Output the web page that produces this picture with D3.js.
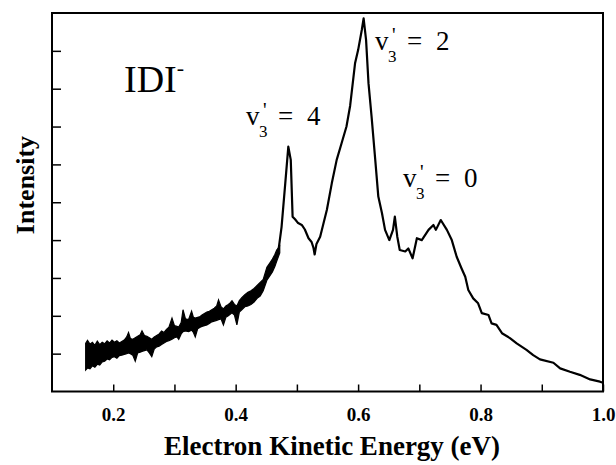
<!DOCTYPE html>
<html>
<head>
<meta charset="utf-8">
<script src="https://cdn.jsdelivr.net/npm/d3@7"></script>
<style>
  body { margin: 0; background: #fff; }
  svg { display: block; }
</style>
</head>
<body>
<div id="chart"></div>
<script>
// photoelectron spectrum of IDI-
// noisy low-energy part: lower / upper edge of the black band
const bandE = [0.155, 0.158, 0.162, 0.166, 0.170, 0.174, 0.178, 0.182, 0.186, 0.190, 0.194, 0.198, 0.202, 0.206, 0.210, 0.214, 0.218, 0.222, 0.225, 0.228, 0.232, 0.236, 0.240, 0.244, 0.247, 0.251, 0.255, 0.259, 0.263, 0.267, 0.271, 0.275, 0.279, 0.283, 0.287, 0.291, 0.296, 0.300, 0.304, 0.307, 0.311, 0.314, 0.318, 0.323, 0.328, 0.331, 0.334, 0.338, 0.342, 0.345, 0.349, 0.353, 0.357, 0.361, 0.365, 0.369, 0.372, 0.376, 0.380, 0.384, 0.388, 0.391, 0.394, 0.398, 0.402, 0.406, 0.410, 0.415, 0.420, 0.425, 0.430, 0.435, 0.440, 0.445, 0.451, 0.456, 0.460, 0.464, 0.467, 0.472];
const bandLo = [0.57, 0.62, 0.60, 0.68, 0.64, 0.72, 0.70, 0.78, 0.80, 0.86, 0.84, 0.90, 0.92, 0.88, 0.95, 0.96, 0.98, 1.00, 1.02, 1.00, 0.96, 0.80, 1.02, 1.04, 1.06, 1.08, 1.10, 1.02, 0.92, 1.12, 1.18, 1.20, 1.24, 1.28, 1.32, 1.34, 1.38, 1.42, 1.44, 1.38, 1.52, 1.58, 1.60, 1.58, 1.62, 1.56, 1.44, 1.66, 1.70, 1.72, 1.74, 1.76, 1.80, 1.84, 1.86, 1.88, 1.90, 1.92, 1.76, 1.96, 2.00, 2.04, 2.08, 2.02, 1.76, 2.10, 2.16, 2.24, 2.26, 2.30, 2.36, 2.46, 2.52, 2.66, 2.94, 3.06, 3.16, 3.30, 3.44, 3.66];
const bandHi = [1.27, 1.35, 1.25, 1.30, 1.22, 1.33, 1.24, 1.30, 1.26, 1.34, 1.28, 1.36, 1.30, 1.34, 1.28, 1.32, 1.36, 1.44, 1.56, 1.40, 1.38, 1.42, 1.46, 1.50, 1.60, 1.48, 1.46, 1.42, 1.38, 1.44, 1.48, 1.52, 1.60, 1.56, 1.64, 1.70, 1.94, 1.74, 1.72, 1.70, 1.82, 2.16, 1.92, 1.90, 2.12, 1.96, 1.94, 1.96, 1.98, 2.02, 2.06, 2.10, 2.12, 2.16, 2.20, 2.26, 2.42, 2.24, 2.18, 2.26, 2.30, 2.34, 2.40, 2.30, 2.26, 2.40, 2.48, 2.56, 2.62, 2.66, 2.72, 2.80, 2.88, 2.96, 3.28, 3.40, 3.50, 3.62, 3.74, 3.84];

// cleaner part of the trace
const lineE = [0.470, 0.475, 0.481, 0.486, 0.490, 0.493, 0.497, 0.502, 0.508, 0.513, 0.519, 0.524, 0.527, 0.529, 0.532, 0.538, 0.549, 0.557, 0.565, 0.573, 0.581, 0.587, 0.595, 0.600, 0.606, 0.609, 0.613, 0.617, 0.622, 0.628, 0.633, 0.639, 0.644, 0.651, 0.657, 0.660, 0.664, 0.668, 0.677, 0.682, 0.689, 0.696, 0.704, 0.715, 0.723, 0.727, 0.735, 0.745, 0.753, 0.761, 0.769, 0.775, 0.780, 0.788, 0.796, 0.802, 0.813, 0.818, 0.826, 0.835, 0.848, 0.859, 0.875, 0.886, 0.897, 0.919, 0.930, 0.946, 0.962, 0.979, 0.995, 1.000];
const lineI = [3.74, 4.35, 5.50, 6.47, 6.12, 4.62, 4.55, 4.45, 4.40, 4.28, 4.05, 3.95, 3.80, 3.62, 3.90, 4.09, 4.80, 5.50, 6.12, 6.56, 7.00, 7.55, 8.67, 9.02, 9.55, 9.86, 9.29, 8.14, 7.26, 6.12, 5.15, 4.71, 4.27, 4.00, 4.27, 4.62, 4.09, 3.74, 3.70, 3.78, 3.52, 4.05, 4.00, 4.27, 4.40, 4.27, 4.53, 4.27, 4.00, 3.56, 3.25, 3.03, 2.68, 2.46, 2.33, 2.07, 2.02, 1.80, 1.76, 1.54, 1.41, 1.27, 1.10, 0.96, 0.85, 0.76, 0.61, 0.52, 0.44, 0.32, 0.26, 0.23];

const xTicks = [0.2, 0.3, 0.4, 0.5, 0.6, 0.7, 0.8, 0.9, 1.0];
const yTicks = [1, 2, 3, 4, 5, 6, 7, 8, 9];
const peakLabels = ["4", "2", "0"];

const width = 616, height = 465;
const margin = { top: 13, right: 13, bottom: 73.5, left: 52 };
const serif = "'Liberation Serif', 'Times New Roman', serif";

const svg = d3.select("#chart").append("svg")
    .attr("width", width)
    .attr("height", height);

const x = d3.scaleLinear().domain([0.1, 1.0]).range([margin.left, width - margin.right]);
const y = d3.scaleLinear().domain([0, 10]).range([height - margin.bottom, margin.top]);

// axes, ticks pointing inward
svg.append("g")
    .attr("transform", `translate(0,${height - margin.bottom})`)
    .call(d3.axisBottom(x).tickValues(xTicks).tickSizeInner(-7).tickSizeOuter(0)
        .tickFormat(d => Math.round(d * 10) % 2 === 0 ? d3.format(".1f")(d) : ""))
    .call(g => g.select(".domain").remove())
    .call(g => g.selectAll("line").attr("stroke", "#000").attr("stroke-width", 1.5))
    .call(g => g.selectAll("text")
        .attr("dy", null).attr("y", 29)
        .style("font-family", serif)
        .style("font-weight", "bold")
        .style("font-size", "19px")
        .attr("fill", "#000"));

svg.append("g")
    .attr("transform", `translate(${margin.left},0)`)
    .call(d3.axisLeft(y).tickValues(yTicks).tickSizeInner(-9).tickSizeOuter(0).tickFormat(""))
    .call(g => g.select(".domain").remove())
    .call(g => g.selectAll("line").attr("stroke", "#000").attr("stroke-width", 1.5));

// frame
svg.append("rect")
    .attr("x", margin.left)
    .attr("y", margin.top)
    .attr("width", width - margin.left - margin.right)
    .attr("height", height - margin.top - margin.bottom)
    .attr("fill", "none")
    .attr("stroke", "#000")
    .attr("stroke-width", 2);

// noisy band
const band = bandE.map((e, i) => ({ e: e, lo: bandLo[i], hi: bandHi[i] }));
svg.append("path")
    .datum(band)
    .attr("d", d3.area().x(d => x(d.e)).y0(d => y(d.lo)).y1(d => y(d.hi)))
    .attr("fill", "#000")
    .attr("stroke", "#000")
    .attr("stroke-width", 1.2)
    .attr("stroke-linejoin", "miter");

// main trace
const trace = lineE.map((e, i) => [e, lineI[i]]);
svg.append("path")
    .datum(trace)
    .attr("d", d3.line().x(d => x(d[0])).y(d => y(d[1])))
    .attr("fill", "none")
    .attr("stroke", "#000")
    .attr("stroke-width", 2.2)
    .attr("stroke-linejoin", "round");

// species label
const idi = svg.append("text")
    .attr("x", 124)
    .attr("y", 92)
    .style("font-family", serif)
    .style("font-size", "38px")
    .attr("fill", "#000");
idi.append("tspan").text("IDI");
idi.append("tspan").attr("dy", -17).style("font-size", "22px").text("-");

// v3' = n labels, one text element each
const labelPos = [[246, 125], [375, 50], [403, 187]];
labelPos.forEach(([lx, ly], i) => {
    const t = svg.append("text")
        .attr("x", lx)
        .attr("y", ly)
        .style("font-family", serif)
        .style("font-size", "27px")
        .attr("fill", "#000");
    t.append("tspan").text("v");
    t.append("tspan").attr("x", lx + 13).attr("dy", 12).style("font-size", "17px").text("3");
    t.append("tspan").attr("x", lx + 17).attr("dy", -20).style("font-size", "20px").text("'");
    t.append("tspan").attr("x", lx + 32).attr("dy", 8).text("=");
    t.append("tspan").attr("x", lx + 61).text(peakLabels[i]);
});

// axis titles
svg.append("text")
    .attr("x", 332)
    .attr("y", 455)
    .attr("text-anchor", "middle")
    .style("font-family", serif)
    .style("font-weight", "bold")
    .style("font-size", "27px")
    .text("Electron Kinetic Energy (eV)");

svg.append("text")
    .attr("transform", "translate(34,185) rotate(-90)")
    .attr("text-anchor", "middle")
    .style("font-family", serif)
    .style("font-weight", "bold")
    .style("font-size", "26px")
    .text("Intensity");
</script>
</body>
</html>
